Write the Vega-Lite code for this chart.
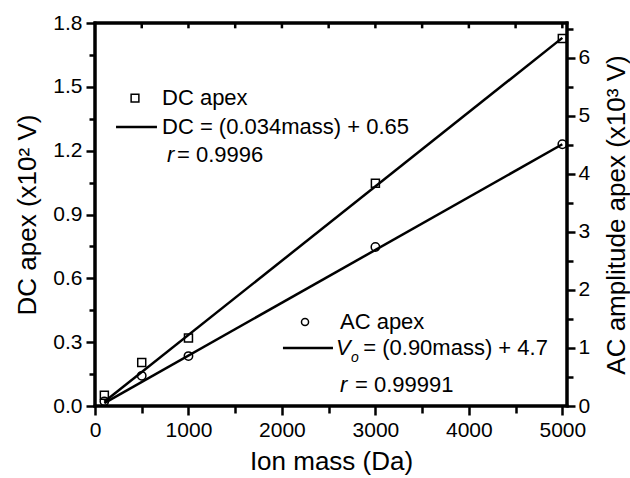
{
  "$schema": "https://vega.github.io/schema/vega-lite/v6.json",
  "width": 472,
  "height": 383,
  "autosize": {"type": "none"},
  "padding": {"left": 95, "top": 23, "right": 63, "bottom": 72},
  "background": "white",
  "config": {
    "view": {"stroke": "black", "strokeWidth": 3},
    "font": "Liberation Sans",
    "axis": {
      "grid": false,
      "domain": false,
      "tickColor": "black",
      "labelColor": "black",
      "titleColor": "black",
      "labelFont": "Liberation Sans",
      "titleFont": "Liberation Sans",
      "labelFontSize": 21,
      "titleFontSize": 26,
      "titleFontWeight": "normal",
      "tickWidth": 2.5,
      "labelFlush": false,
      "labelOverlap": false
    },
    "text": {"font": "Liberation Sans", "fontSize": 22, "color": "black"}
  },
  "datasets": {
    "dc": [
      {"mass": 100, "dc": 0.05},
      {"mass": 500, "dc": 0.204},
      {"mass": 1000, "dc": 0.32},
      {"mass": 3000, "dc": 1.047},
      {"mass": 5000, "dc": 1.727}
    ],
    "ac": [
      {"mass": 100, "ac": 0.08},
      {"mass": 500, "ac": 0.52},
      {"mass": 1000, "ac": 0.86},
      {"mass": 3000, "ac": 2.74},
      {"mass": 5000, "ac": 4.51}
    ],
    "dcfit": [
      {"mass": 100, "dc": 0.02},
      {"mass": 5000, "dc": 1.73}
    ],
    "acfit": [
      {"mass": 100, "ac": 0.05},
      {"mass": 5000, "ac": 4.51}
    ],
    "topticks": [
      {"mass": 500}, {"mass": 1000}, {"mass": 1500}, {"mass": 2000}, {"mass": 2500},
      {"mass": 3000}, {"mass": 3500}, {"mass": 4000}, {"mass": 4500}, {"mass": 5000}
    ]
  },
  "layer": [
    {
      "data": {"name": "dcfit"},
      "mark": {"type": "line", "color": "black", "strokeWidth": 2.5},
      "encoding": {
        "x": {"field": "mass", "type": "quantitative", "scale": {"domain": [0, 5050], "nice": false, "zero": false},
          "axis": {"orient": "bottom", "values": [0, 1000, 2000, 3000, 4000, 5000], "format": "d", "title": "Ion mass (Da)", "tickSize": 9, "labelPadding": 4, "titlePadding": 8}},
        "y": {"field": "dc", "type": "quantitative", "scale": {"domain": [0, 1.8], "nice": false},
          "axis": {"orient": "left", "values": [0, 0.3, 0.6, 0.9, 1.2, 1.5, 1.8], "format": ".1f", "title": "DC apex (x10² V)", "tickSize": 9, "labelPadding": 4, "titlePadding": 12}}
      }
    },
    {
      "data": {"name": "dc"},
      "mark": {"type": "point", "shape": "square", "size": 64, "filled": false, "color": "black", "strokeWidth": 1.5, "opacity": 1},
      "encoding": {
        "x": {"field": "mass", "type": "quantitative", "scale": {"domain": [0, 5050], "nice": false, "zero": false},
          "axis": {"orient": "bottom", "values": [500, 1500, 2500, 3500, 4500], "labels": false, "title": null, "tickSize": 7}},
        "y": {"field": "dc", "type": "quantitative", "scale": {"domain": [0, 1.8], "nice": false},
          "axis": {"orient": "left", "values": [0.15, 0.45, 0.75, 1.05, 1.35, 1.65], "labels": false, "title": null, "tickSize": 6}}
      }
    },
    {
      "data": {"name": "acfit"},
      "mark": {"type": "line", "color": "black", "strokeWidth": 2.5},
      "encoding": {
        "x": {"field": "mass", "type": "quantitative", "scale": {"domain": [0, 5050], "nice": false, "zero": false}, "axis": null},
        "y": {"field": "ac", "type": "quantitative", "scale": {"domain": [0, 6.6], "nice": false},
          "axis": {"orient": "right", "values": [0, 1, 2, 3, 4, 5, 6], "format": "d", "title": "AC amplitude apex (x10³ V)", "titleAngle": 270, "titleBaseline": "top", "tickSize": 8, "labelPadding": 3, "titlePadding": 14}}
      }
    },
    {
      "data": {"name": "ac"},
      "mark": {"type": "point", "shape": "circle", "size": 70, "filled": false, "color": "black", "strokeWidth": 1.5, "opacity": 1},
      "encoding": {
        "x": {"field": "mass", "type": "quantitative", "scale": {"domain": [0, 5050], "nice": false, "zero": false}, "axis": null},
        "y": {"field": "ac", "type": "quantitative", "scale": {"domain": [0, 6.6], "nice": false},
          "axis": {"orient": "right", "values": [0.5, 1.5, 2.5, 3.5, 4.5, 5.5, 6.5], "labels": false, "title": null, "tickSize": 6}}
      }
    },
    {
      "data": {"values": [{}]},
      "layer": [
        {
          "mark": {"type": "point", "shape": "square", "size": 60, "filled": false, "color": "black", "strokeWidth": 1.5, "opacity": 1},
          "encoding": {
            "x": {"datum": 428, "type": "quantitative", "scale": {"domain": [0, 5050], "nice": false, "zero": false}, "axis": null},
            "y": {"datum": 1.447, "type": "quantitative", "scale": {"domain": [0, 1.8], "nice": false}, "axis": null}
          }
        },
        {
          "mark": {"type": "text", "align": "left", "baseline": "middle", "text": "DC apex"},
          "encoding": {
            "x": {"datum": 717, "type": "quantitative", "scale": {"domain": [0, 5050], "nice": false, "zero": false}, "axis": null},
            "y": {"datum": 1.447, "type": "quantitative", "scale": {"domain": [0, 1.8], "nice": false}, "axis": null}
          }
        },
        {
          "mark": {"type": "rule", "color": "black", "strokeWidth": 2.5},
          "encoding": {
            "x": {"datum": 225, "type": "quantitative", "scale": {"domain": [0, 5050], "nice": false, "zero": false}, "axis": null},
            "x2": {"datum": 663},
            "y": {"datum": 1.311, "type": "quantitative", "scale": {"domain": [0, 1.8], "nice": false}, "axis": null}
          }
        },
        {
          "mark": {"type": "text", "align": "left", "baseline": "middle", "text": "DC = (0.034mass) + 0.65"},
          "encoding": {
            "x": {"datum": 717, "type": "quantitative", "scale": {"domain": [0, 5050], "nice": false, "zero": false}, "axis": null},
            "y": {"datum": 1.311, "type": "quantitative", "scale": {"domain": [0, 1.8], "nice": false}, "axis": null}
          }
        },
        {
          "mark": {"type": "text", "align": "left", "baseline": "middle", "fontStyle": "italic", "text": "r"},
          "encoding": {
            "x": {"datum": 770, "type": "quantitative", "scale": {"domain": [0, 5050], "nice": false, "zero": false}, "axis": null},
            "y": {"datum": 1.18, "type": "quantitative", "scale": {"domain": [0, 1.8], "nice": false}, "axis": null}
          }
        },
        {
          "mark": {"type": "text", "align": "left", "baseline": "middle", "text": "= 0.9996"},
          "encoding": {
            "x": {"datum": 877, "type": "quantitative", "scale": {"domain": [0, 5050], "nice": false, "zero": false}, "axis": null},
            "y": {"datum": 1.18, "type": "quantitative", "scale": {"domain": [0, 1.8], "nice": false}, "axis": null}
          }
        },
        {
          "mark": {"type": "point", "shape": "circle", "size": 50, "filled": false, "color": "black", "strokeWidth": 1.5, "opacity": 1},
          "encoding": {
            "x": {"datum": 2247, "type": "quantitative", "scale": {"domain": [0, 5050], "nice": false, "zero": false}, "axis": null},
            "y": {"datum": 0.395, "type": "quantitative", "scale": {"domain": [0, 1.8], "nice": false}, "axis": null}
          }
        },
        {
          "mark": {"type": "text", "align": "left", "baseline": "middle", "text": "AC apex"},
          "encoding": {
            "x": {"datum": 2621, "type": "quantitative", "scale": {"domain": [0, 5050], "nice": false, "zero": false}, "axis": null},
            "y": {"datum": 0.395, "type": "quantitative", "scale": {"domain": [0, 1.8], "nice": false}, "axis": null}
          }
        },
        {
          "mark": {"type": "rule", "color": "black", "strokeWidth": 2.5},
          "encoding": {
            "x": {"datum": 2011, "type": "quantitative", "scale": {"domain": [0, 5050], "nice": false, "zero": false}, "axis": null},
            "x2": {"datum": 2546},
            "y": {"datum": 0.2726, "type": "quantitative", "scale": {"domain": [0, 1.8], "nice": false}, "axis": null}
          }
        },
        {
          "mark": {"type": "text", "align": "left", "baseline": "middle", "fontStyle": "italic", "text": "V"},
          "encoding": {
            "x": {"datum": 2578, "type": "quantitative", "scale": {"domain": [0, 5050], "nice": false, "zero": false}, "axis": null},
            "y": {"datum": 0.2726, "type": "quantitative", "scale": {"domain": [0, 1.8], "nice": false}, "axis": null}
          }
        },
        {
          "mark": {"type": "text", "align": "left", "baseline": "middle", "fontStyle": "italic", "fontSize": 14, "text": "o"},
          "encoding": {
            "x": {"datum": 2740, "type": "quantitative", "scale": {"domain": [0, 5050], "nice": false, "zero": false}, "axis": null},
            "y": {"datum": 0.2256, "type": "quantitative", "scale": {"domain": [0, 1.8], "nice": false}, "axis": null}
          }
        },
        {
          "mark": {"type": "text", "align": "left", "baseline": "middle", "text": "=  (0.90mass) + 4.7"},
          "encoding": {
            "x": {"datum": 2870, "type": "quantitative", "scale": {"domain": [0, 5050], "nice": false, "zero": false}, "axis": null},
            "y": {"datum": 0.2726, "type": "quantitative", "scale": {"domain": [0, 1.8], "nice": false}, "axis": null}
          }
        },
        {
          "mark": {"type": "text", "align": "left", "baseline": "middle", "fontStyle": "italic", "text": "r"},
          "encoding": {
            "x": {"datum": 2621, "type": "quantitative", "scale": {"domain": [0, 5050], "nice": false, "zero": false}, "axis": null},
            "y": {"datum": 0.0987, "type": "quantitative", "scale": {"domain": [0, 1.8], "nice": false}, "axis": null}
          }
        },
        {
          "mark": {"type": "text", "align": "left", "baseline": "middle", "text": "= 0.99991"},
          "encoding": {
            "x": {"datum": 2782, "type": "quantitative", "scale": {"domain": [0, 5050], "nice": false, "zero": false}, "axis": null},
            "y": {"datum": 0.0987, "type": "quantitative", "scale": {"domain": [0, 1.8], "nice": false}, "axis": null}
          }
        },
        {
          "data": {"name": "topticks"},
          "mark": {"type": "rule", "color": "black", "strokeWidth": 2.5},
          "encoding": {
            "x": {"field": "mass", "type": "quantitative", "scale": {"domain": [0, 5050], "nice": false, "zero": false}, "axis": null},
            "y": {"datum": 1.8, "type": "quantitative", "scale": {"domain": [0, 1.8], "nice": false}, "axis": null},
            "y2": {"datum": 1.775}
          }
        },
        {
          "mark": {"type": "rule", "color": "black", "strokeWidth": 3, "strokeCap": "square"},
          "encoding": {
            "x": {"datum": 0, "type": "quantitative", "scale": {"domain": [0, 5050], "nice": false, "zero": false}, "axis": null},
            "x2": {"datum": 5050},
            "y": {"datum": 1.8, "type": "quantitative", "scale": {"domain": [0, 1.8], "nice": false}, "axis": null}
          }
        },
        {
          "mark": {"type": "rule", "color": "black", "strokeWidth": 3, "strokeCap": "square"},
          "encoding": {
            "x": {"datum": 0, "type": "quantitative", "scale": {"domain": [0, 5050], "nice": false, "zero": false}, "axis": null},
            "x2": {"datum": 5050},
            "y": {"datum": 0, "type": "quantitative", "scale": {"domain": [0, 1.8], "nice": false}, "axis": null}
          }
        },
        {
          "mark": {"type": "rule", "color": "black", "strokeWidth": 3, "strokeCap": "square"},
          "encoding": {
            "x": {"datum": 0, "type": "quantitative", "scale": {"domain": [0, 5050], "nice": false, "zero": false}, "axis": null},
            "y": {"datum": 0, "type": "quantitative", "scale": {"domain": [0, 1.8], "nice": false}, "axis": null},
            "y2": {"datum": 1.8}
          }
        },
        {
          "mark": {"type": "rule", "color": "black", "strokeWidth": 3, "strokeCap": "square"},
          "encoding": {
            "x": {"datum": 5050, "type": "quantitative", "scale": {"domain": [0, 5050], "nice": false, "zero": false}, "axis": null},
            "y": {"datum": 0, "type": "quantitative", "scale": {"domain": [0, 1.8], "nice": false}, "axis": null},
            "y2": {"datum": 1.8}
          }
        }
      ]
    }
  ],
  "resolve": {"scale": {"x": "independent", "y": "independent"}}
}
